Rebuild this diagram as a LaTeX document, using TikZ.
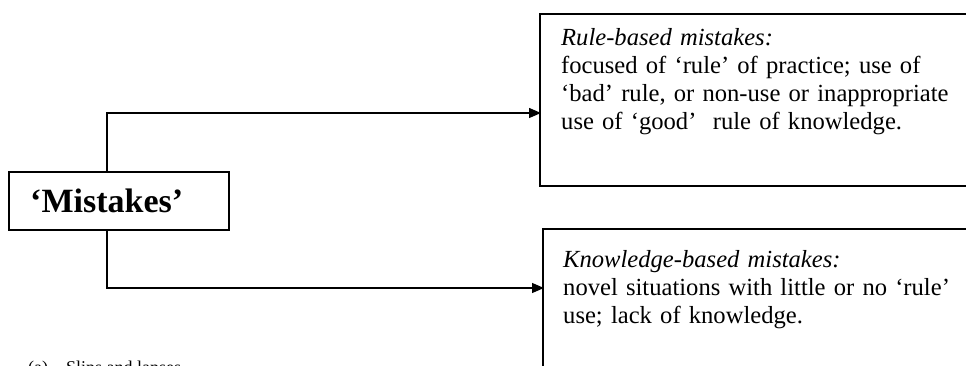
\documentclass[tikz,border=0pt]{standalone}
\usepackage{fontspec}
\setmainfont{Liberation Serif}
\usetikzlibrary{arrows.meta}
\begin{document}
\begin{tikzpicture}[x=1pt,y=-1pt,
  boxline/.style={draw=black,line width=1.6pt},
  conn/.style={draw=black,line width=1.3pt},
  arr/.style={conn,-{Triangle[length=12pt,width=10pt]}},
  bodytext/.style={font=\fontsize{24.6pt}{28pt}\selectfont,align=left,anchor=base west,inner sep=0pt,text width=400pt}]
\useasboundingbox (0,0) rectangle (966,366);
% boxes
\node[boxline,minimum width=220pt,minimum height=58pt,anchor=north west,inner sep=0pt] (m) at (8,171) {};
\node[font=\fontsize{34pt}{36pt}\selectfont\bfseries,anchor=base west,inner sep=0pt] (mt) at (30,212) {‘Mistakes’};
\begin{scope}
\clip (0,0) rectangle (966,366);
\draw[boxline] (975,14) -- (540,14) -- (540,186) -- (975,186);
\draw[boxline] (975,229) -- (543,229) -- (543,380);
\node[font=\fontsize{18pt}{20pt}\selectfont,anchor=base west,inner sep=0pt] (cap) at (28,373) {(a)\hspace{18pt}Slips and lapses};
\end{scope}
\coordinate (r) at (541,113);
\coordinate (k) at (544,288);
\node[bodytext] (rt) at (561,46) {\textit{Rule-based mistakes:}\\focused of ‘rule’ of practice; use of\\‘bad’ rule, or non-use or inappropriate\\use of ‘good’~ rule of knowledge.};
\node[bodytext] (kt) at (563,267) {\textit{Knowledge-based mistakes:}\\novel situations with little or no ‘rule’\\use; lack of knowledge.};
\draw[arr] (m.north -| 107,0) -- (107,113) -- (r);
\draw[arr] (m.south -| 107,0) -- (107,288) -- (k);
\end{tikzpicture}
\end{document}
